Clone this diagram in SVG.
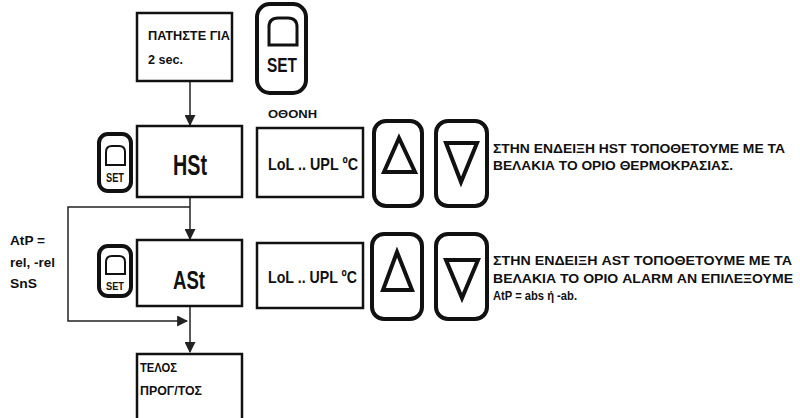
<svg xmlns="http://www.w3.org/2000/svg" width="800" height="418" viewBox="0 0 800 418">
<defs>
<style>
.box{fill:#fff;stroke:#111;stroke-width:2.5}
.btn{fill:#fff;stroke:#111;stroke-width:4}
.dome{fill:none;stroke:#111;stroke-width:3}
.tri{fill:none;stroke:#111;stroke-width:4;stroke-linejoin:miter}
.ln{fill:none;stroke:#222;stroke-width:1.5}
.t{font-family:"Liberation Sans",Arial,sans-serif;font-weight:bold;fill:#111}
</style>
<marker id="ah" viewBox="0 0 10 10" refX="9" refY="5" markerWidth="8" markerHeight="8" markerUnits="userSpaceOnUse" orient="auto">
<path d="M0,0 L10,5 L0,10 z" fill="#222"/>
</marker>
<marker id="ah2" viewBox="0 0 10 10" refX="9" refY="5" markerWidth="11" markerHeight="11" markerUnits="userSpaceOnUse" orient="auto">
<path d="M0,0 L10,5 L0,10 z" fill="#222"/>
</marker>
</defs>
<rect width="800" height="418" fill="#fff"/>

<g id="connectors">
<line class="ln" x1="190" y1="81" x2="190" y2="125" marker-end="url(#ah2)"/>
<line class="ln" x1="190" y1="197" x2="190" y2="239" marker-end="url(#ah2)"/>
<polyline class="ln" points="190,207 68,207 68,321 187,321" marker-end="url(#ah2)"/>
<line class="ln" x1="190" y1="306" x2="190" y2="352" marker-end="url(#ah2)"/>
</g>

<g id="start">
<rect class="box" x="137" y="13" width="95" height="68"/>
<text class="t" x="148" y="40" font-size="12" textLength="82" lengthAdjust="spacingAndGlyphs">ΠΑΤΗΣΤΕ ΓΙΑ</text>
<text class="t" x="148" y="64" font-size="12" textLength="35" lengthAdjust="spacingAndGlyphs">2 sec.</text>
</g>

<g id="set-main">
<rect class="btn" x="257" y="4" width="49" height="89" rx="13"/>
<path class="dome" d="M269,45 L269,27 Q269,18 278,18 L288,18 Q297,18 297,27 L297,45 Z"/>
<text class="t" x="282" y="72" font-size="21" text-anchor="middle" textLength="30" lengthAdjust="spacingAndGlyphs">SET</text>
</g>

<g id="display-label">
<text class="t" x="268" y="118" font-size="11" textLength="49" lengthAdjust="spacingAndGlyphs">ΟΘΟΝΗ</text>
</g>

<g id="hst">
<rect class="box" x="137" y="126" width="105" height="71"/>
<text class="t" x="190" y="175" font-size="30" text-anchor="middle" textLength="34" lengthAdjust="spacingAndGlyphs" font-weight="normal">HSt</text>
</g>

<g id="set-hst">
<rect class="btn" x="99" y="134" width="32" height="57" rx="9"/>
<path class="dome" d="M106,165 L106,152 Q106,146 112,146 L119,146 Q125,146 125,152 L125,165 Z" style="stroke-width:2"/>
<text class="t" x="115" y="182" font-size="12" text-anchor="middle" textLength="18" lengthAdjust="spacingAndGlyphs">SET</text>
</g>

<g id="display-hst">
<rect class="box" x="257" y="128" width="106" height="69"/>
<text class="t" x="268" y="170" font-size="17" textLength="90" lengthAdjust="spacingAndGlyphs">LoL .. UPL ºC</text>
</g>

<g id="up-hst">
<rect class="btn" x="374" y="121" width="48" height="85" rx="12"/>
<polygon class="tri" points="399,138 384,172 415,172"/>
</g>

<g id="down-hst">
<rect class="btn" x="436" y="121" width="51" height="85" rx="12"/>
<polygon class="tri" points="446,143 477,143 461,182"/>
</g>

<g id="text-hst">
<text class="t" x="493" y="153" font-size="12" textLength="292" lengthAdjust="spacingAndGlyphs">ΣΤΗΝ ΕΝΔΕΙΞΗ HST ΤΟΠΟΘΕΤΟΥΜΕ ΜΕ ΤΑ</text>
<text class="t" x="493" y="170" font-size="12" textLength="240" lengthAdjust="spacingAndGlyphs">ΒΕΛΑΚΙΑ ΤΟ ΟΡΙΟ ΘΕΡΜΟΚΡΑΣΙΑΣ.</text>
</g>

<g id="atp-label">
<text class="t" x="10" y="245" font-size="12" textLength="35" lengthAdjust="spacingAndGlyphs">AtP =</text>
<text class="t" x="10" y="267" font-size="12" textLength="45" lengthAdjust="spacingAndGlyphs">rel, -rel</text>
<text class="t" x="10" y="288" font-size="12" textLength="27" lengthAdjust="spacingAndGlyphs">SnS</text>
</g>

<g id="ast">
<rect class="box" x="137" y="240" width="105" height="66"/>
<text class="t" x="189" y="289" font-size="26" text-anchor="middle" textLength="32" lengthAdjust="spacingAndGlyphs" font-weight="normal">ASt</text>
</g>

<g id="set-ast">
<rect class="btn" x="99" y="246" width="32" height="50" rx="9"/>
<path class="dome" d="M106,274 L106,262 Q106,256 112,256 L119,256 Q125,256 125,262 L125,274 Z" style="stroke-width:2"/>
<text class="t" x="115" y="290" font-size="11" text-anchor="middle" textLength="18" lengthAdjust="spacingAndGlyphs">SET</text>
</g>

<g id="display-ast">
<rect class="box" x="257" y="243" width="106" height="65"/>
<text class="t" x="268" y="283" font-size="17" textLength="89" lengthAdjust="spacingAndGlyphs">LoL .. UPL ºC</text>
</g>

<g id="up-ast">
<rect class="btn" x="372" y="234" width="50" height="85" rx="12"/>
<polygon class="tri" points="397,252 383,290 412,290"/>
</g>

<g id="down-ast">
<rect class="btn" x="436" y="234" width="51" height="85" rx="12"/>
<polygon class="tri" points="446,260 478,260 462,298"/>
</g>

<g id="text-ast">
<text class="t" x="493" y="265" font-size="12" textLength="299" lengthAdjust="spacingAndGlyphs">ΣΤΗΝ ΕΝΔΕΙΞΗ AST ΤΟΠΟΘΕΤΟΥΜΕ ΜΕ ΤΑ</text>
<text class="t" x="493" y="283" font-size="12" textLength="300" lengthAdjust="spacingAndGlyphs">ΒΕΛΑΚΙΑ ΤΟ ΟΡΙΟ ALARM ΑΝ  ΕΠΙΛΕΞΟΥΜΕ</text>
<text class="t" x="493" y="300" font-size="12" textLength="84" lengthAdjust="spacingAndGlyphs">AtP = abs  ή -ab.</text>
</g>

<g id="end">
<rect class="box" x="137" y="354" width="105" height="70"/>
<text class="t" x="140" y="372" font-size="12" textLength="37" lengthAdjust="spacingAndGlyphs">ΤΕΛΟΣ</text>
<text class="t" x="140" y="395" font-size="12" textLength="62" lengthAdjust="spacingAndGlyphs">ΠΡΟΓ/ΤΟΣ</text>
</g>
</svg>
